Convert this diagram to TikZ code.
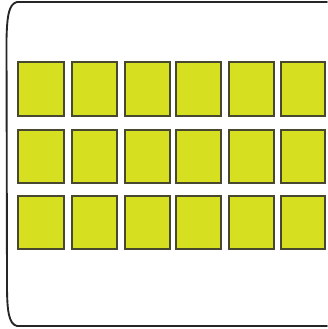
\documentclass[tikz,border=0pt]{standalone}
\usepackage{xcolor}
\usepackage{tikz}
\definecolor{slotfill}{RGB}{214,224,32}
\definecolor{slotedge}{RGB}{72,72,48}
\tikzset{
  slotbox/.style={fill=slotfill, draw=slotedge, line width=1.1pt},
  frameline/.style={draw=black!85, line width=1.6pt, line cap=round}
}

\begin{document}
\begin{tikzpicture}[x=0.03cm, y=-0.03cm]
      \useasboundingbox (0,0) rectangle (327,329);

      % Frame, open on the right
      \draw[frameline] (327,2) -- (17,2)
            .. controls (9,4) and (7,15) .. (6.5,40)
            -- (7,285)
            .. controls (7,312) and (9,324) .. (17,326)
            -- (327,326);

      % Rows of slots
      \foreach \top/\h in {62/54, 130/53, 196/53} {
        \foreach \left/\w in {18/46, 72/45, 125/45, 176/45, 229/45, 281/44} {
          \path[slotbox] (\left,\top) rectangle ++(\w,\h);
        }
      }
  \end{tikzpicture}
\end{document}
